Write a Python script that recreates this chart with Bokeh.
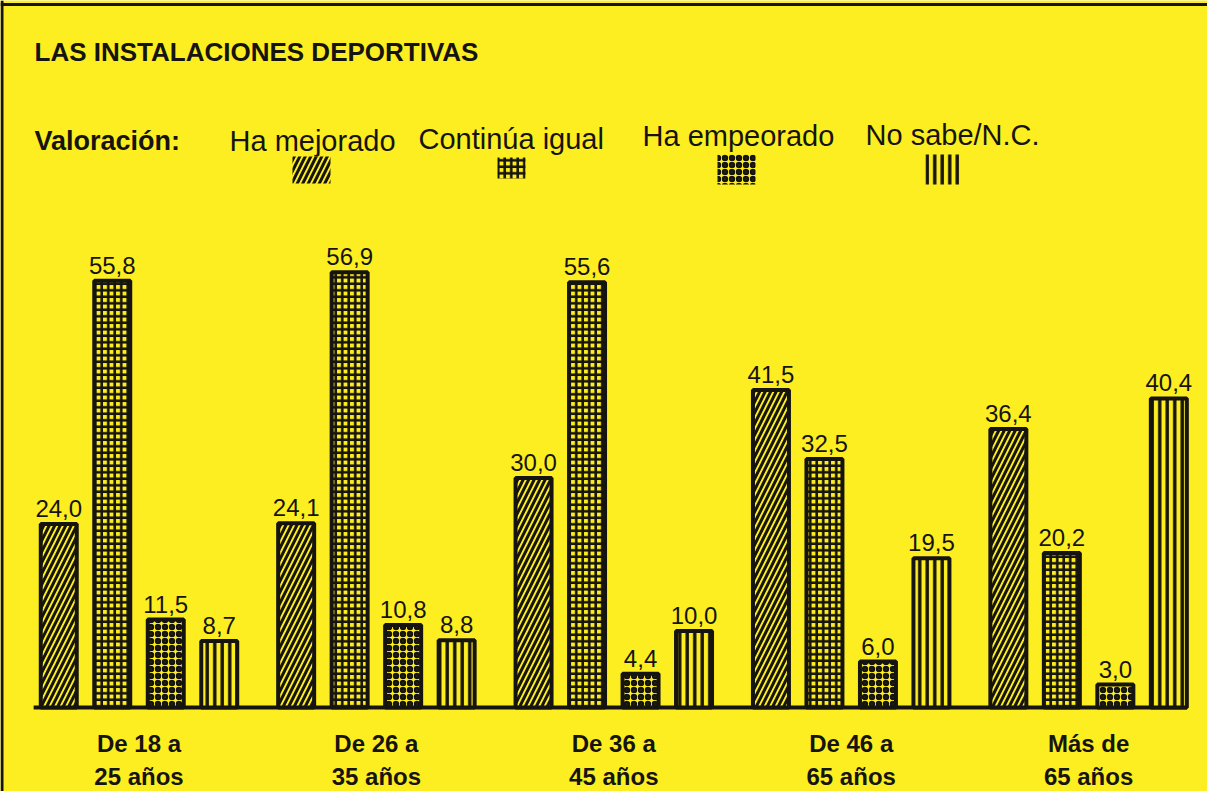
from bokeh.plotting import figure
from bokeh.models import Range1d, Span, ColumnDataSource
from bokeh.core.properties import value
from bokeh.embed import file_html
from bokeh.resources import INLINE

# ---------------- data ----------------
title_text = "LAS INSTALACIONES DEPORTIVAS"
legend_title = "Valoración:"
categories = ["De 18 a\n25 años", "De 26 a\n35 años", "De 36 a\n45 años",
              "De 46 a\n65 años", "Más de\n65 años"]
series_names = ["Ha mejorado", "Continúa igual", "Ha empeorado", "No sabe/N.C."]
ha_mejorado = [24.0, 24.1, 30.0, 41.5, 36.4]
continua_igual = [55.8, 56.9, 55.6, 32.5, 20.2]
ha_empeorado = [11.5, 10.8, 4.4, 6.0, 3.0]
no_sabe = [8.7, 8.8, 10.0, 19.5, 40.4]
series_values = [ha_mejorado, continua_igual, ha_empeorado, no_sabe]

# ---------------- style / layout ----------------
YELLOW = "#FDEE21"
INK = "#161410"
FONT = "Liberation Sans"
W, H = 1207, 791
GROUP_PX = 237.4     # pixels per category
X0_PX = 138.5        # pixel x of first category centre
BASE_PX = 707        # pixel y (from top) of the zero line
UNIT_PX = 7.65       # pixels per percentage point

offsets = [-0.338, -0.1127, 0.1127, 0.338]
bar_width = 0.1516
hatches = [
    dict(hatch_pattern="/", hatch_scale=11, hatch_weight=3.0),
    dict(hatch_pattern="+", hatch_scale=6.5, hatch_weight=2.6),
    dict(hatch_pattern="o", hatch_scale=7, hatch_weight=3.0),
    dict(hatch_pattern="|", hatch_scale=7.5, hatch_weight=3.4),
]


def dx(px):
    return (px - X0_PX) / GROUP_PX


def dy(py):
    return (BASE_PX - py) / UNIT_PX


p = figure(width=W, height=H, output_backend="svg", toolbar_location=None,
           x_range=Range1d(dx(0), dx(W)), y_range=Range1d(dy(H), dy(0)),
           x_axis_location=None, y_axis_location=None,
           min_border=0, background_fill_color=YELLOW,
           border_fill_color=YELLOW, outline_line_color=None)
p.grid.visible = False

# frame lines (left and top edges of the printed box)
p.add_layout(Span(location=dx(1.5), dimension="height", line_color=INK, line_width=3))
p.add_layout(Span(location=dy(4), dimension="width", line_color=INK, line_width=3))

# baseline
first_left = 0 + offsets[0] - bar_width / 2 - 0.03
last_right = (len(categories) - 1) + offsets[-1] + bar_width / 2
p.segment(x0=[first_left], y0=[0], x1=[last_right], y1=[0], line_color=INK, line_width=4)

# bars + value labels
for j, vals in enumerate(series_values):
    xs = [i + offsets[j] for i in range(len(categories))]
    src = ColumnDataSource(dict(x=xs, top=vals,
                                lab=[f"{v:.1f}".replace(".", ",") for v in vals]))
    p.vbar(x="x", top="top", bottom=0, width=bar_width, source=src,
           fill_color=YELLOW, line_color=INK, line_width=4,
           hatch_color=INK, hatch_alpha=1.0, **hatches[j])
    p.text(x="x", y="top", text="lab", source=src, text_align="center",
           text_baseline="top", y_offset=-24,
           text_font=value(FONT), text_font_size="24px", text_color=INK)

# category labels
p.text(x=list(range(len(categories))), y=[0] * len(categories), text=categories,
       text_align="center", text_baseline="top", y_offset=22,
       text_font=value(FONT), text_font_size="24px", text_font_style="bold",
       text_line_height=1.25, text_color=INK)

# title
p.text(x=[dx(34)], y=[dy(36)], text=[title_text], text_align="left",
       text_baseline="top", text_font=value(FONT), text_font_size="26px",
       text_font_style="bold", text_color=INK)

# legend
p.text(x=[dx(34)], y=[dy(125)], text=[legend_title], text_align="left",
       text_baseline="top", text_font=value(FONT), text_font_size="27px",
       text_font_style="bold", text_color=INK)
label_left_px = [229, 418, 642, 865]
label_top_px = [124, 122, 119, 118]
p.text(x=[dx(v) for v in label_left_px], y=[dy(v) for v in label_top_px],
       text=series_names, text_align="left", text_baseline="top",
       text_font=value(FONT), text_font_size="29px", text_color=INK)

swatches_px = [(292, 330, 156, 183), (497, 525, 157, 178),
               (717, 755, 154, 184), (925, 960, 154, 184)]
for j, (x0, x1, y0, y1) in enumerate(swatches_px):
    p.quad(left=[dx(x0)], right=[dx(x1)], top=[dy(y0)], bottom=[dy(y1)],
           fill_color=YELLOW, line_color=None, hatch_color=INK, hatch_alpha=1.0,
           **hatches[j])

open("out.html", "w").write(file_html(p, INLINE))
